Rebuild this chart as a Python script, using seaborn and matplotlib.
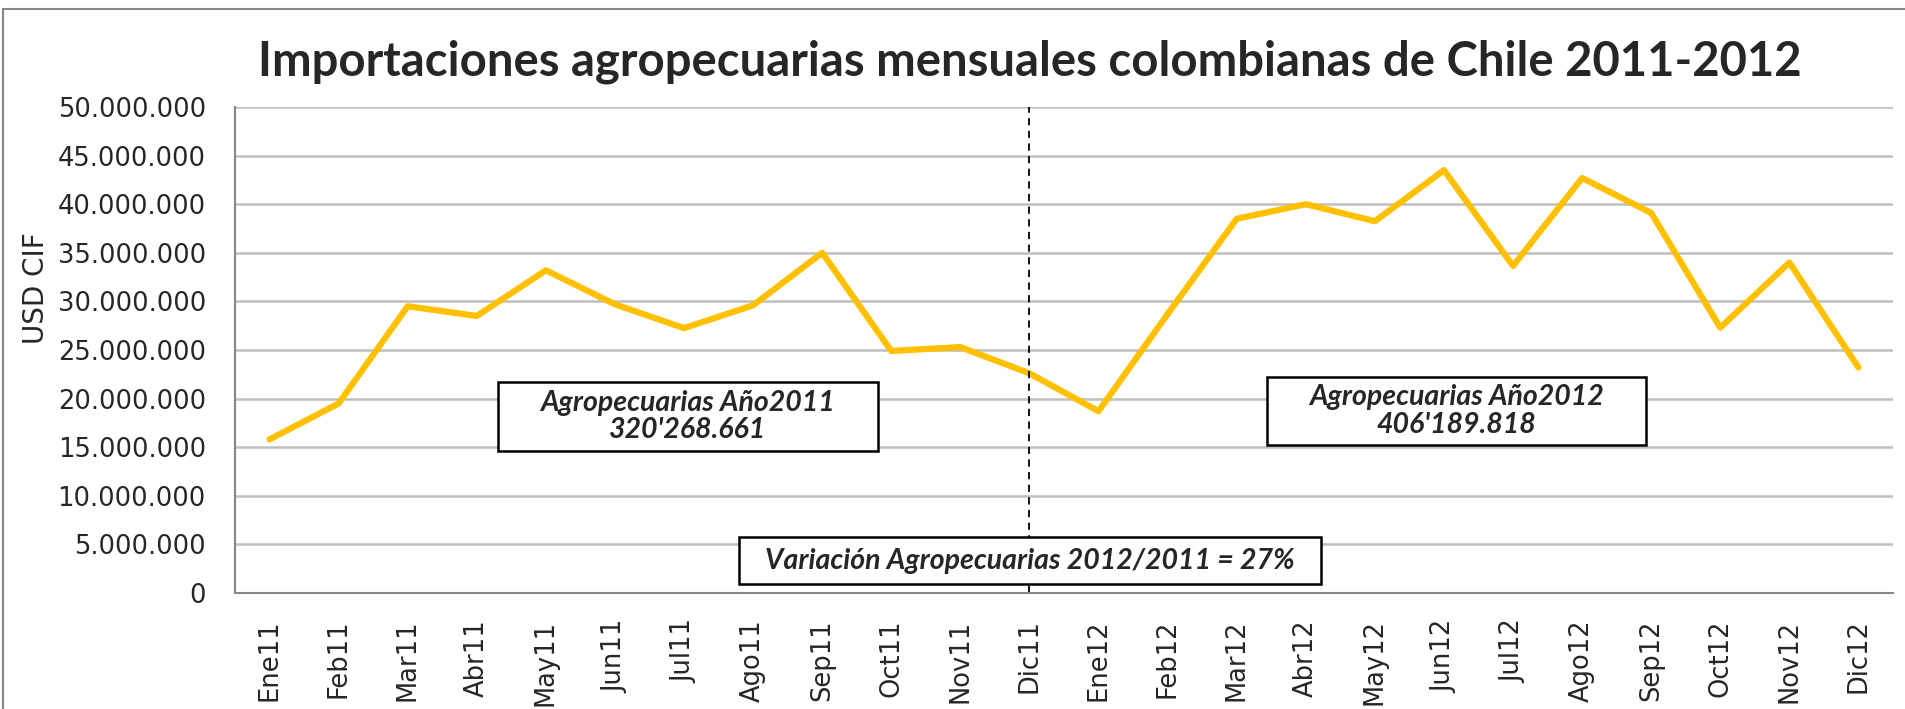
import numpy as np
import pandas as pd
import seaborn as sns
import matplotlib.pyplot as plt
from matplotlib.patches import Rectangle
from matplotlib.ticker import FuncFormatter, FixedLocator

# datos mensuales (USD CIF)
meses = ['Ene11', 'Feb11', 'Mar11', 'Abr11', 'May11', 'Jun11', 'Jul11', 'Ago11',
         'Sep11', 'Oct11', 'Nov11', 'Dic11', 'Ene12', 'Feb12', 'Mar12', 'Abr12',
         'May12', 'Jun12', 'Jul12', 'Ago12', 'Sep12', 'Oct12', 'Nov12', 'Dic12']
valores = [15.8, 19.5, 29.5, 28.5, 33.2, 29.7, 27.25, 29.6, 35.0, 24.9, 25.3, 22.6,
           18.7, 28.7, 38.5, 40.0, 38.25, 43.5, 33.65, 42.7, 39.1, 27.3, 34.0, 23.2]
valores = [v * 1e6 for v in valores]

titulo = 'Importaciones agropecuarias mensuales colombianas de Chile 2011-2012'
texto_2011 = "Agropecuarias Año2011\n320'268.661"
texto_2012 = "Agropecuarias Año2012\n406'189.818"
texto_var = 'Variación Agropecuarias 2012/2011 = 27%'

data = pd.DataFrame({'pos': np.arange(len(meses)), 'valor': valores})

sns.set_style('white')
plt.rcParams['font.family'] = ['DejaVu Sans']

W, H = 1905, 709
fig = plt.figure(figsize=(W / 100, H / 100), dpi=100)
ax = fig.add_axes([235 / W, 1 - 593 / H, (1893 - 235) / W, (593 - 107) / H])

gris = '#868686'
ax.set_ylim(0, 50e6)
ax.set_xlim(-0.5, len(meses) - 0.5)
ax.yaxis.set_major_locator(FixedLocator(np.arange(0, 50e6 + 1, 5e6)))
ax.grid(axis='y', color='#BFBFBF', linewidth=1.8)
ax.set_axisbelow(True)

sns.lineplot(data=data, x='pos', y='valor', color='#FFC000', linewidth=4.5, ax=ax)

# linea vertical en Dic11
ax.axvline(meses.index('Dic11'), color='black', linestyle=(0, (4, 3)), linewidth=1.3)

ax.set_xticks(np.arange(len(meses)))
ax.set_xticklabels(meses, rotation=90, fontsize=18.5)
ax.set_xticks(np.arange(len(meses) + 1) - 0.5, minor=True)
ax.tick_params(axis='x', which='major', length=0, pad=19)
ax.tick_params(axis='x', which='minor', length=7, width=1.5, color=gris, direction='out')
ax.tick_params(axis='y', length=7, width=1.5, color=gris, direction='out', labelsize=18.5, pad=14)
ax.yaxis.set_major_formatter(FuncFormatter(lambda v, p: f'{int(v):,}'.replace(',', '.')))

for s in ['top', 'right']:
    ax.spines[s].set_visible(False)
for s in ['left', 'bottom']:
    ax.spines[s].set_color(gris)
    ax.spines[s].set_linewidth(1.5)

ax.set_xlabel('')
ax.set_ylabel('USD CIF', fontsize=20)
ax.yaxis.set_label_coords((50 - 235) / (1893 - 235), (593 - 288) / (593 - 107))

fig.text(1030 / W, 1 - 62 / H, titulo, ha='center', va='center',
         fontsize=34, fontweight='bold', family='Lato')


def caja(x0, y0, x1, y1, texto, size):
    ax.add_patch(Rectangle((x0 / W, 1 - y1 / H), (x1 - x0) / W, (y1 - y0) / H,
                           transform=fig.transFigure, facecolor='white',
                           edgecolor='black', linewidth=1.8, zorder=10, clip_on=False))
    ax.text((x0 + x1) / 2 / W, 1 - (y0 + y1) / 2 / H, texto, transform=fig.transFigure,
            ha='center', va='center', fontsize=size, fontweight='bold', style='italic',
            family='Lato', linespacing=1.05, zorder=11)


caja(498, 382, 878, 451, texto_2011, 20.5)
caja(1267, 377, 1646, 445, texto_2012, 20.5)
caja(739, 537, 1321, 584, texto_var, 20.5)

# borde exterior del grafico
fig.patches.append(Rectangle((3 / W, -0.1), 1.2, 1 - 9 / H + 0.1, transform=fig.transFigure,
                             facecolor='none', edgecolor=gris, linewidth=1.5, zorder=0))

fig.savefig('out.png', dpi=100)
